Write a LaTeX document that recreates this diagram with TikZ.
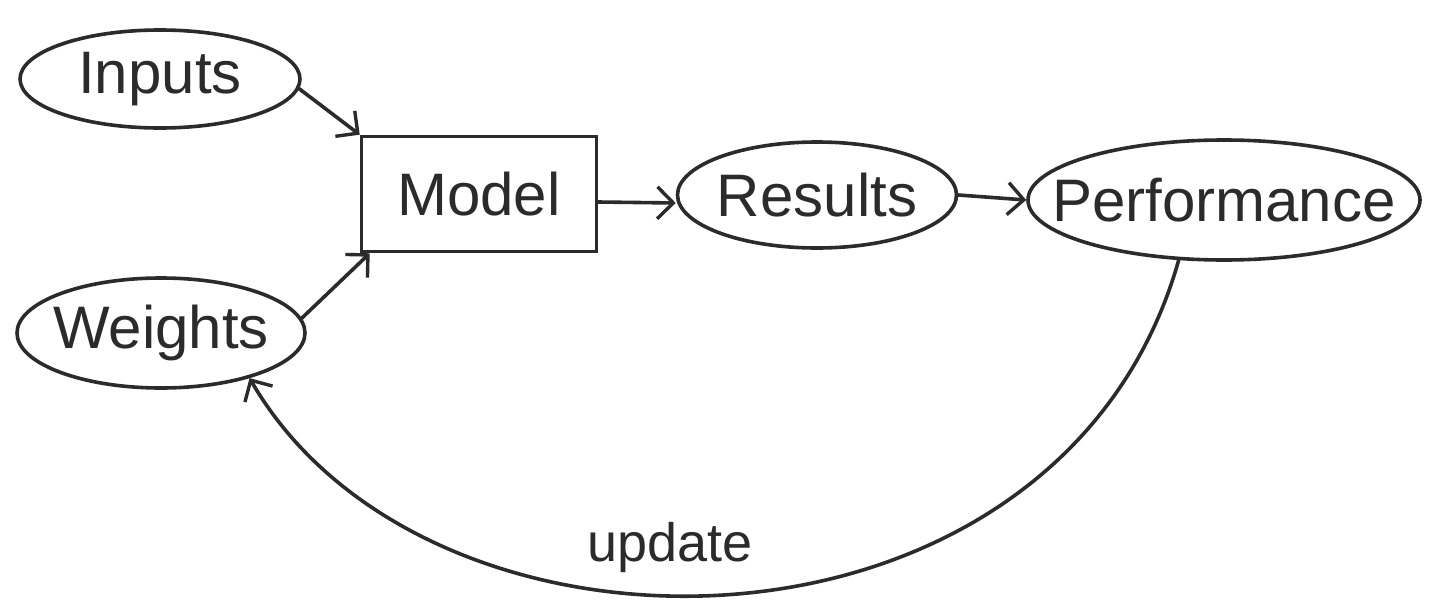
\documentclass[tikz,border=0pt]{standalone}
\usepackage{fontspec}
\setmainfont{Liberation Sans}
\usetikzlibrary{shapes.geometric,arrows.meta}
\definecolor{pencil}{HTML}{2B2B2B}
\begin{document}
\begin{tikzpicture}[x=1pt,y=-1pt,
  every node/.style={font=\fontsize{60}{68}\selectfont, text=pencil},
  stroke/.style={draw=pencil, line width=3.6pt},
  % the ellipse takes its size from the minimum sizes alone; its word sits on top as a centred label
  oval/.style={stroke, ellipse, inner sep=0pt, label=center:{#1}},
  box/.style={stroke, rectangle, inner sep=0pt},
  link/.style={stroke, line cap=round, -{Straight Barb[length=16pt,width=32pt,line width=3.4pt]}}]
  \useasboundingbox (0,0) rectangle (1452,616);

  % nodes
  \node[oval=Inputs,      minimum width=280pt, minimum height=98pt]  (inp)  at (160,79)   {};
  \node[oval=Weights,     minimum width=288pt, minimum height=110pt] (wts)  at (161,333)  {};
  \node[box,              minimum width=235pt, minimum height=115pt] (mdl)  at (479,194)  {Model};
  \node[oval=Results,     minimum width=279pt, minimum height=106pt] (res)  at (817,195)  {};
  \node[oval=Performance, minimum width=392pt, minimum height=120pt] (perf) at (1224,200) {};

  % forward connectors
  \draw[link] (inp.-4) -- (mdl.north west);
  \draw[link] (wts.6) -- ([xshift=10pt]mdl.south west);
  \draw[link] ([yshift=-8pt]mdl.east) -- ([yshift=-8pt]res.west);
  \draw[link] (res.east) -- (perf.west);

  % feedback loop
  \draw[link] (perf.-127) .. controls (1060,680) and (430,690) .. (wts.-27);
  \node (upd) at (670,548) {\fontsize{54}{60}\selectfont update};
\end{tikzpicture}
\end{document}
